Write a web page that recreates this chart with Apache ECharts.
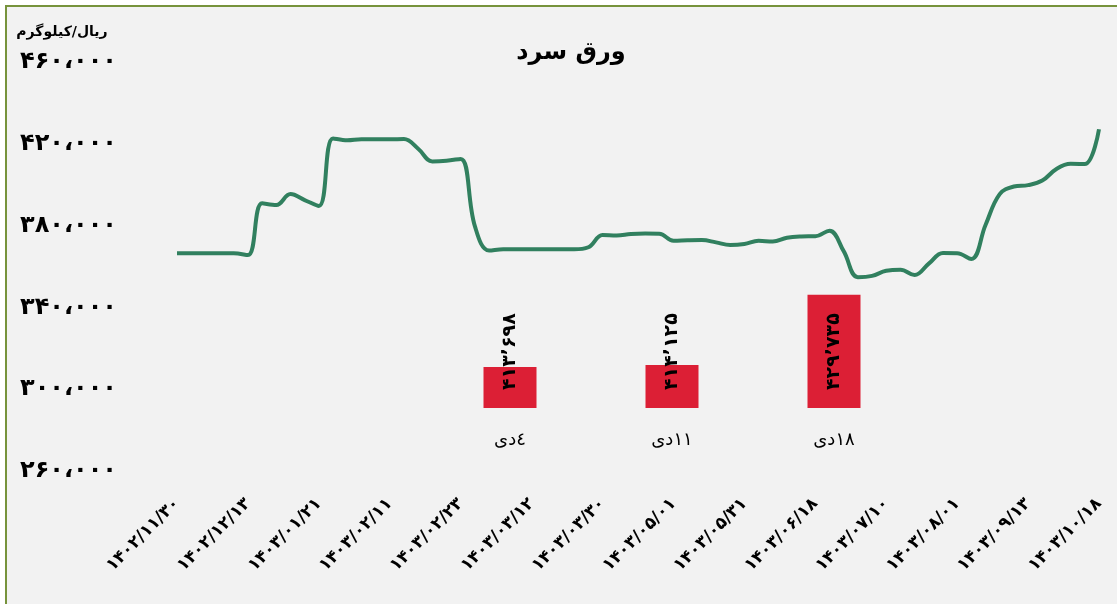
<!DOCTYPE html>
<html>
<head>
<meta charset="utf-8">
<script src="https://cdn.jsdelivr.net/npm/echarts@6/dist/echarts.min.js"></script>
<style>
  html, body { margin: 0; padding: 0; background: #fff; }
  #chart { width: 1117px; height: 604px; }
</style>
</head>
<body>
<div id="chart"></div>
<script>
// dates (solar hijri), one per sample
const dates = [
  '1402/11/30', '1402/12/02', '1402/12/05', '1402/12/07', '1402/12/10',
  '1402/12/13', '1402/12/16', '1402/12/20', '1402/12/24', '1403/01/18',
  '1403/01/21', '1403/01/25', '1403/01/28', '1403/02/01', '1403/02/06',
  '1403/02/11', '1403/02/13', '1403/02/16', '1403/02/18', '1403/02/20',
  '1403/02/23', '1403/02/27', '1403/02/31', '1403/03/03', '1403/03/07',
  '1403/03/12', '1403/03/15', '1403/03/19', '1403/03/22', '1403/03/26',
  '1403/03/30', '1403/04/06', '1403/04/13', '1403/04/20', '1403/04/27',
  '1403/05/01', '1403/05/07', '1403/05/13', '1403/05/19', '1403/05/25',
  '1403/05/31', '1403/06/03', '1403/06/07', '1403/06/11', '1403/06/14',
  '1403/06/18', '1403/06/22', '1403/06/27', '1403/06/31', '1403/07/05',
  '1403/07/10', '1403/07/14', '1403/07/18', '1403/07/22', '1403/07/26',
  '1403/08/01', '1403/08/09', '1403/08/18', '1403/08/26', '1403/09/05',
  '1403/09/13', '1403/09/20', '1403/09/27', '1403/10/04', '1403/10/11',
  '1403/10/18'
];

// price, rial per kg
const prices = [
  366500, 366500, 366500, 366500, 366500,
  365600, 390900, 390100, 395400, 392500,
  389600, 422600, 421700, 422200, 422200,
  422200, 422300, 417600, 411400, 411700,
  412600, 379700, 367800, 368400, 368400,
  368400, 368400, 368400, 368400, 369400,
  375400, 375200, 375900, 376100, 376000,
  372600, 372800, 372900, 371800, 370500,
  371000, 372600, 372200, 374100, 374700,
  374800, 377500, 367500, 354800, 355400,
  357900, 358400, 355800, 361400, 366600,
  366500, 363700, 380300, 395400, 399100,
  399800, 402000, 407700, 410200, 410100,
  427100
];

const yTicks = [260000, 300000, 340000, 380000, 420000, 460000];

// weekly callouts
const barDays = ['٤دی', '١١دی', '١٨دی'];
const barValues = [413698, 414125, 429735];

const FONT = '"DejaVu Sans", sans-serif';
const fa = s => String(s).replace(/[0-9]/g, d => '۰۱۲۳۴۵۶۷۸۹'[d]);
const fmtTick = v => fa(Number(v).toLocaleString('en-US')).replace(/,/g, '،');
const fmtBar = v => fa(Number(v).toLocaleString('en-US')).replace(/,/g, '٬');

const chart = echarts.init(document.getElementById('chart'));

chart.setOption({
  animation: false,
  textStyle: { fontFamily: FONT },
  graphic: [
    {
      type: 'rect',
      z: -10,
      silent: true,
      shape: { x: 6, y: 6, width: 1200, height: 700 },
      style: { fill: '#F2F2F2', stroke: '#77933C', lineWidth: 2 }
    },
    {
      type: 'text',
      x: 571,
      y: 53,
      style: {
        text: 'ورق سرد',
        font: 'bold 24px ' + FONT,
        fill: '#000',
        textAlign: 'center',
        textVerticalAlign: 'middle'
      }
    },
    {
      type: 'text',
      x: 62,
      y: 32,
      style: {
        text: 'ریال/کیلوگرم',
        font: 'bold 14px ' + FONT,
        fill: '#000',
        textAlign: 'center',
        textVerticalAlign: 'middle'
      }
    }
  ],
  grid: [
    { left: 177, right: 18, top: 62, bottom: 133 },
    { left: 429, width: 486, top: 288, height: 120 }
  ],
  xAxis: [
    {
      type: 'category',
      gridIndex: 0,
      data: dates,
      boundaryGap: false,
      axisLine: { show: false },
      axisTick: { show: false },
      axisLabel: {
        interval: 4,
        rotate: 45,
        margin: 30,
        fontSize: 17,
        fontWeight: 'bold',
        color: '#000',
        fontFamily: FONT,
        formatter: v => fa(v)
      }
    },
    {
      type: 'category',
      gridIndex: 1,
      data: barDays,
      axisLine: { show: false },
      axisTick: { show: false },
      axisLabel: { margin: 23, fontSize: 18, color: '#000', fontFamily: FONT }
    }
  ],
  yAxis: [
    {
      type: 'value',
      gridIndex: 0,
      min: 260000,
      max: 460000,
      splitLine: { show: false },
      axisLine: { show: false },
      axisTick: { show: false },
      axisLabel: {
        customValues: yTicks,
        align: 'left',
        margin: 157,
        fontSize: 24,
        fontWeight: 'bold',
        color: '#000',
        fontFamily: FONT,
        formatter: fmtTick
      }
    },
    {
      type: 'value',
      gridIndex: 1,
      min: 404600,
      max: 431220,
      show: false,
      splitLine: { show: false }
    }
  ],
  series: [
    {
      name: 'price',
      type: 'line',
      xAxisIndex: 0,
      yAxisIndex: 0,
      data: prices,
      smooth: 0.4,
      symbol: 'none',
      lineStyle: { color: '#31805F', width: 4 },
      z: 3
    },
    {
      name: 'week',
      type: 'bar',
      xAxisIndex: 1,
      yAxisIndex: 1,
      data: barValues,
      barWidth: 53,
      itemStyle: { color: '#DC1F35' },
      label: {
        show: true,
        position: 'insideBottom',
        distance: 18,
        rotate: 90,
        align: 'left',
        verticalAlign: 'middle',
        fontSize: 19,
        fontWeight: 'bold',
        color: '#000',
        fontFamily: FONT,
        formatter: p => fmtBar(p.value)
      }
    }
  ]
});
</script>
</body>
</html>
